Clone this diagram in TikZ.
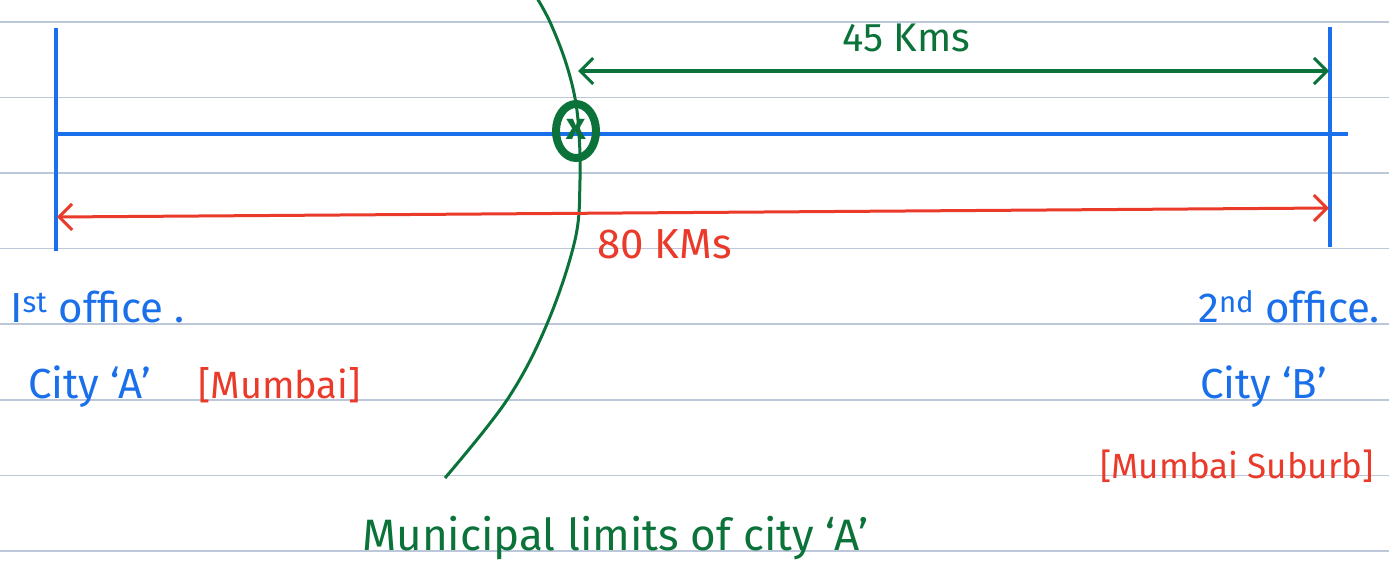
\documentclass[tikz,border=0pt]{standalone}
\usepackage{fontspec}
\setmainfont{Fira Sans}
\usetikzlibrary{arrows.meta,shapes.geometric}
\definecolor{rule}{HTML}{BCC8DA}
\definecolor{pblue}{HTML}{1A6FEA}
\definecolor{pgreen}{HTML}{0B7339}
\definecolor{pred}{HTML}{EA3A2A}
\tikzset{
  rulel/.style={draw=rule,line width=1.6pt},
  blueln/.style={draw=pblue,line width=3.2pt},
  dimgreen/.style={draw=pgreen,line width=3.2pt,{Straight Barb[length=13pt,width=26pt,line width=3pt]}-{Straight Barb[length=13pt,width=26pt,line width=3pt]}},
  dimred/.style={draw=pred,line width=3pt,{Straight Barb[length=13pt,width=26pt,line width=3pt]}-{Straight Barb[length=13pt,width=26pt,line width=3pt]}},
  lbl/.style={inner sep=0pt,anchor=base west},
  btext/.style={lbl,text=pblue,font=\fontsize{42}{46}\selectfont},
  rtext/.style={lbl,text=pred,font=\fontsize{38}{42}\selectfont},
  gtext/.style={lbl,text=pgreen,font=\fontsize{40}{44}\selectfont},
}
\begin{document}
\begin{tikzpicture}[x=1pt,y=-1pt]
\useasboundingbox (0,0) rectangle (1389,578);
% ruled lines
\foreach \yy in {22,97.5,173,248.5,324,400,475.5,551}
  \draw[rulel] (0,\yy) -- (1389,\yy);
% blue lines
\coordinate (LT) at (56,28);
\coordinate (LB) at (56,251);
\coordinate (RT) at (1330,27);
\coordinate (RB) at (1330,247);
\coordinate (HL) at (56,134);
\coordinate (HR) at (1348,134);
\draw[blueln] (LT) -- (LB);
\draw[blueln] (RT) -- (RB);
\draw[blueln] (HL) -- (HR);
% municipal limit curve
\draw[pgreen,line width=3pt] plot[smooth,tension=0.6] coordinates
  {(537,-2) (550,22) (565,60) (575,98) (579,134) (580,180) (575,240) (547,324) (507,400) (445,478)};
% point marker
\node (P) [draw=pgreen,line width=8pt,ellipse,minimum width=40pt,minimum height=54pt,inner sep=0pt] at (576,131) {};
\node (X) [text=pgreen,font=\bfseries\fontsize{38}{38}\selectfont,inner sep=0pt] at (576,129) {x};
% dimension arrows
\coordinate (G1) at (578,71);
\coordinate (G2) at (1329,71);
\draw[dimgreen] (G1) -- (G2);
\coordinate (R1) at (57,217);
\coordinate (R2) at (1329,208);
\draw[dimred] (R1) -- (R2);
% labels
\node (k45) [gtext] at (842,52) {45 Kms};
\node (k80) [rtext,font=\fontsize{42}{46}\selectfont] at (597,258) {80 KMs};
\node (o1) [btext] at (10,322) {I\textsuperscript{st} office .};
\node (c1) [btext] at (28,398) {City ‘A’};
\node (m1) [rtext] at (198,398) {[Mumbai]};
\node (o2) [btext] at (1198,322) {2\textsuperscript{nd} office.};
\node (c2) [btext] at (1200,398) {City ‘B’};
\node (m2) [rtext,font=\fontsize{35}{40}\selectfont] at (1100,478) {[Mumbai Suburb]};
\node (ml) [gtext,font=\fontsize{44}{48}\selectfont] at (362,550) {Municipal limits of city ‘A’};
\end{tikzpicture}
\end{document}
